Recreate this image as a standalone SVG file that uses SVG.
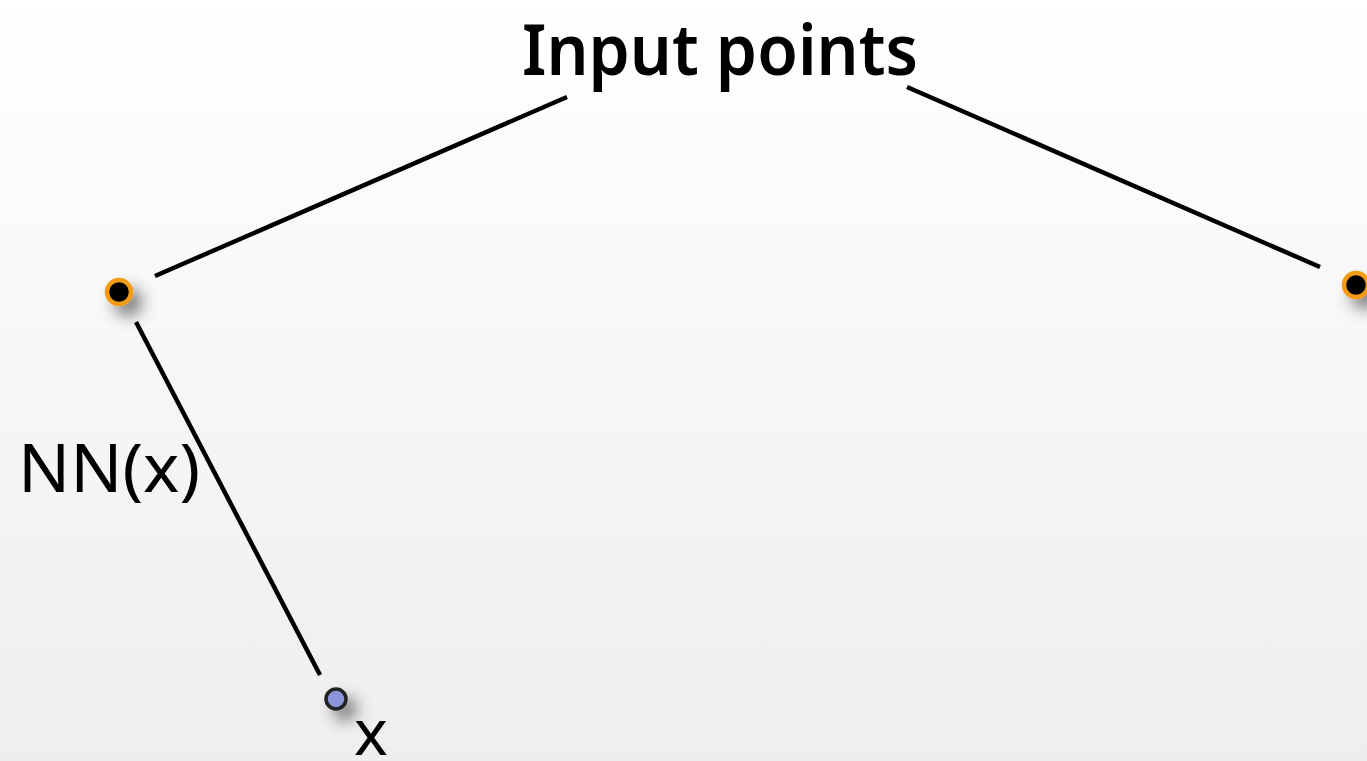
<svg xmlns="http://www.w3.org/2000/svg" width="1367" height="761" viewBox="0 0 1367 761">
  <defs>
    <linearGradient id="bg" x1="0" y1="0" x2="0" y2="1">
      <stop offset="0" stop-color="#ffffff"/>
      <stop offset="1" stop-color="#eeeeee"/>
    </linearGradient>
    <filter id="shadow" x="-150%" y="-150%" width="400%" height="400%">
      <feGaussianBlur in="SourceAlpha" stdDeviation="8"/>
      <feOffset dx="9" dy="10" result="b"/>
      <feComponentTransfer><feFuncA type="linear" slope="0.5"/></feComponentTransfer>
      <feMerge><feMergeNode/><feMergeNode in="SourceGraphic"/></feMerge>
    </filter>
  </defs>
  <style>
    .edge { stroke: #000; stroke-width: 4.5; fill: none; }
    .input { fill: #000; stroke: #f39a12; stroke-width: 4.5; }
    .query { fill: #8c95d9; stroke: #222; stroke-width: 3.5; }
    .label { font-family: "Noto Sans", "DejaVu Sans", sans-serif; fill: #000; }
  </style>
  <rect width="1367" height="761" fill="url(#bg)"/>

  <g id="connectors">
    <line class="edge" x1="155" y1="276" x2="567" y2="97"/>
    <line class="edge" x1="907" y1="87" x2="1320" y2="267"/>
    <line class="edge" x1="136" y1="322" x2="320" y2="675"/>
  </g>

  <g id="title">
    <text class="label" x="522" y="75" font-size="70" font-weight="600" textLength="396" lengthAdjust="spacingAndGlyphs">Input points</text>
  </g>

  <g id="point-left">
    <circle class="input" cx="119" cy="292" r="12" filter="url(#shadow)"/>
  </g>

  <g id="point-right">
    <circle class="input" cx="1356" cy="285" r="12" filter="url(#shadow)"/>
  </g>

  <g id="nn-label">
    <text class="label" x="18" y="492" font-size="68" textLength="182" lengthAdjust="spacingAndGlyphs">NN(x)</text>
  </g>

  <g id="query-point">
    <circle class="query" cx="336" cy="699" r="10" filter="url(#shadow)"/>
    <text class="label" x="354" y="755" font-size="64">x</text>
  </g>
</svg>
